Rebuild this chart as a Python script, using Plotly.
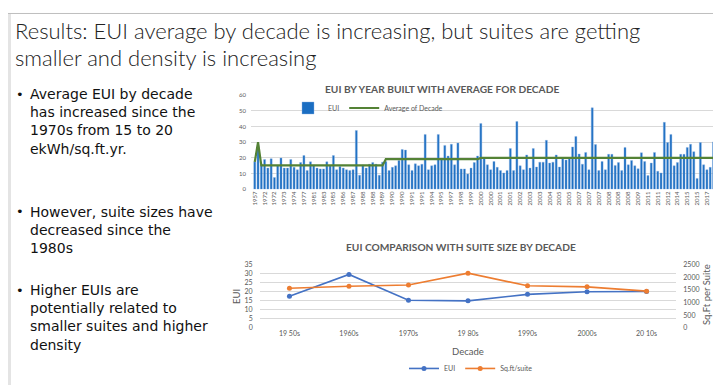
import plotly.graph_objects as go

W, H = 721, 385

# ---------------- data: chart 1 (EUI by year built) ----------------
eui = [17.5, 28, 16, 19, 13.5, 19.5, 7.5, 15, 20, 13.5, 13.5, 19, 14, 12.5, 17, 21.5,
       12, 17.5, 15.5, 13.5, 13, 13, 17.5, 15, 21.5, 12.5, 14.5, 13.5, 12.5, 12, 12.5,
       37.5, 9, 15.5, 13.5, 16, 17, 16, 9, 17.3, 17.7, 12, 14, 15, 18.3, 25.4, 25, 15.6,
       12, 16.2, 15, 16, 35, 12.5, 15, 15.6, 35, 19, 28, 21.2, 28.7, 15.6, 29.5, 13, 13,
       9.8, 13.5, 17, 21.2, 42, 19.8, 15.6, 12.5, 17.7, 14, 11.9, 10.4, 12, 26, 11.9,
       43.2, 15, 12.5, 21.9, 13.5, 26, 14.2, 17.3, 17.3, 31.2, 16.7, 17.3, 21.9, 14.2,
       19.8, 18.7, 19.8, 27, 33.7, 22.5, 16, 23.5, 12.5, 52, 28.5, 11.9, 17.7, 12.5,
       22.3, 22.3, 15.2, 17, 11.9, 26.7, 15.6, 18.3, 15, 13.1, 23.3, 17.7, 8.7, 16.7,
       23.5, 11.5, 10.4, 42.7, 29.8, 35, 15, 17, 22.3, 22.3, 26.7, 28.7, 24, 6.9, 29.8,
       15.6, 12.5, 14, 30.2, 18.7]

tick_labels = ["1957", "1972", "1972", "1973", "1974", "1977", "1981", "1983", "1985",
               "1986", "1987", "1988", "1988", "1989", "1990", "1990", "1991", "1991",
               "1994", "1995", "1997", "1998", "1999", "2000", "2000", "2001", "2001",
               "2002", "2003", "2003", "2004", "2005", "2005", "2007", "2007", "2007",
               "2008", "2008", "2008", "2009", "2011", "2011", "2012", "2014", "2015",
               "2015", "2017", "2018"]

decades = ["1950s", "1960s", "1970s", "1980s", "1990s", "2000s", "2010s"]
bars_per_decade = [1, 1, 16, 22, 29, 50, 23]
avg_of_decade = [17.5, 30, 15.2, 15.2, 19.2, 20, 20]

# ---------------- data: chart 2 (EUI vs suite size) ----------------
decade_labels = ["19 50s", "1960s", "1970s", "19 80s", "1990s", "2000s", "20 10s"]
decade_eui = [17.5, 29.6, 15.3, 15.0, 18.6, 20.0, 20.2]
decade_sqft = [1570, 1650, 1700, 2165, 1665, 1625, 1455]

# ---------------- helpers ----------------
def px(x):
    return x / W

def py(y):
    return 1 - y / H

idx = list(range(len(eui)))
avg_line = []
for n, v in zip(bars_per_decade, avg_of_decade):
    avg_line += [v] * n

GREY = "#595959"
GRID = "#D9D9D9"
FONT = "Lato, Carlito, Calibri, sans-serif"
BODY_FONT = "DejaVu Sans, Verdana, sans-serif"

fig = go.Figure()

fig.add_trace(go.Bar(
    x=idx, y=eui, name="EUI", xaxis="x", yaxis="y", legend="legend",
    marker=dict(color="#1B6EC2", line=dict(color="#8DB3E2", width=0.4)),
    width=0.62,
))
fig.add_trace(go.Scatter(
    x=idx, y=avg_line, name="Average of Decade", mode="lines", xaxis="x", yaxis="y",
    legend="legend", line=dict(color="#548235", width=2.2),
))

fig.add_trace(go.Scatter(
    x=decade_labels, y=decade_eui, name="EUI", mode="lines+markers",
    xaxis="x2", yaxis="y2", legend="legend2",
    line=dict(color="#4472C4", width=1.6), marker=dict(color="#4472C4", size=5),
))
fig.add_trace(go.Scatter(
    x=decade_labels, y=decade_sqft, name="Sq.ft/suite", mode="lines+markers",
    xaxis="x2", yaxis="y3", legend="legend2",
    line=dict(color="#ED7D31", width=1.6), marker=dict(color="#ED7D31", size=5),
))

tickfont_small = dict(family=FONT, size=6, color=GREY)
tickfont2 = dict(family=FONT, size=7, color=GREY)

fig.update_layout(
    width=W, height=H,
    margin=dict(l=0, r=0, t=0, b=0),
    paper_bgcolor="white", plot_bgcolor="rgba(0,0,0,0)",
    bargap=0.4,
    xaxis=dict(
        domain=[px(243), px(711.7)], range=[-1.15, len(eui) - 0.1],
        tickvals=idx[::3], ticktext=tick_labels, tickangle=-90,
        tickfont=tickfont_small, showgrid=False, zeroline=False, ticks="",
        anchor="y", fixedrange=True,
    ),
    yaxis=dict(
        domain=[py(180), py(84)], range=[0, 60], dtick=10,
        tickfont=tickfont_small, gridcolor=GRID, gridwidth=1, zeroline=False,
        ticks="", anchor="x", ticklabelstandoff=4,
    ),
    xaxis2=dict(
        domain=[px(251.7), px(668.3)], range=[-0.5, 6.5],
        tickfont=tickfont2, showgrid=False, zeroline=False, ticks="",
        anchor="y2", type="category",
    ),
    yaxis2=dict(
        domain=[py(321.7), py(257)], range=[0, 35], dtick=5,
        tickfont=tickfont2, gridcolor=GRID, zeroline=False, ticks="",
        anchor="x2", ticklabelstandoff=6,
    ),
    yaxis3=dict(
        domain=[py(321.7), py(257)], range=[0, 2500], dtick=500,
        tickfont=tickfont2, showgrid=False, zeroline=False, ticks="",
        overlaying="y2", side="right", anchor="x2", ticklabelstandoff=6,
    ),
    legend=dict(
        x=px(280), y=py(97), xanchor="left", yanchor="middle", orientation="h",
        font=dict(family=FONT, size=7, color=GREY), bgcolor="rgba(0,0,0,0)",
        itemwidth=30, tracegroupgap=0,
    ),
    legend2=dict(
        x=px(463), y=py(363), xanchor="center", yanchor="middle", orientation="h",
        font=dict(family=FONT, size=7, color=GREY), bgcolor="rgba(0,0,0,0)",
        itemwidth=30,
    ),
    showlegend=True,
)

annotations = []

def text(x, y, s, size, color="black", bold=False, xanchor="left", yanchor="middle",
         angle=0, weight=None, family=FONT):
    f = dict(family=family, size=size, color=color)
    if weight is not None:
        f["weight"] = weight
    elif bold:
        f["weight"] = "bold"
    annotations.append(dict(
        x=px(x), y=py(y), xref="paper", yref="paper", text=s, showarrow=False,
        xanchor=xanchor, yanchor=yanchor, font=f, textangle=angle, align="left",
    ))

# slide title
text(5, 18, "Results: EUI average by decade is increasing, but suites are getting", 22, "#222222", weight=300)
text(5, 45, "smaller and density is increasing", 22, "#222222", weight=300)

# bullets (one multi-line text block per bullet)
BODY_SIZE = 14
bullets = [
    (83, ["Average EUI by decade", "has increased since the", "1970s from 15 to 20", "ekWh/sq.ft.yr."]),
    (203, ["However, suite sizes have", "decreased since the", "1980s"]),
    (283, ["Higher EUIs are", "potentially related to", "smaller suites and higher", "density"]),
]
for y0, lines in bullets:
    top = y0 - BODY_SIZE * 0.65 - 1
    text(20, top, "<br>".join(lines), BODY_SIZE, color="#111111", yanchor="top", family=BODY_FONT)
    text(6, y0, "•", 13, color="#111111", family=BODY_FONT)

# chart titles
text(434, 78, "EUI BY YEAR BUILT WITH AVERAGE FOR DECADE", 10.2, GREY, bold=True, xanchor="center")
text(453, 238.5, "EUI COMPARISON WITH SUITE SIZE BY DECADE", 10.2, GREY, bold=True, xanchor="center")

# chart 2 axis titles
text(460, 346, "Decade", 9.5, GREY, xanchor="center")
text(229, 290, "EUI", 9.5, GREY, xanchor="center", angle=-90)
text(698, 288, "Sq.Ft per Suite", 9.5, GREY, xanchor="center", angle=-90)

fig.update_layout(annotations=annotations)

# slide frame
fig.update_layout(shapes=[
    dict(type="rect", xref="paper", yref="paper", x0=0, x1=px(3), y0=0, y1=1,
         fillcolor="#E4E4E4", line=dict(width=0), layer="below"),
    dict(type="line", xref="paper", yref="paper", x0=0, x1=1, y0=py(0.5), y1=py(0.5),
         line=dict(color="#BFBFBF", width=1)),
    dict(type="line", xref="paper", yref="paper", x0=px(718), x1=px(718), y0=0, y1=1,
         line=dict(color="#D0D0D0", width=1)),
])

fig.write_html("out.html")
